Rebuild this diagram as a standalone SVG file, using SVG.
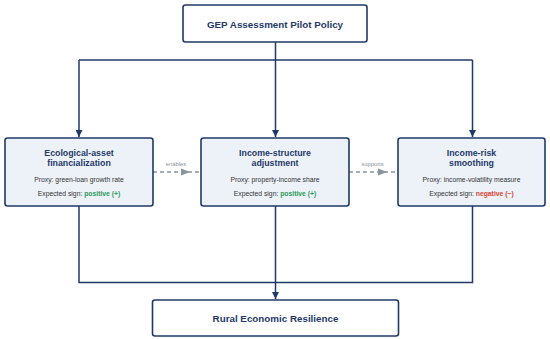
<svg xmlns="http://www.w3.org/2000/svg" width="550" height="339" viewBox="0 0 550 339">
<defs>
<marker id="ah" viewBox="0 0 10 10" refX="10" refY="5" markerWidth="7" markerHeight="7" markerUnits="userSpaceOnUse" orient="auto">
<path d="M0,0 L10,5 L0,10 z" fill="#1f3a68"/>
</marker>
<marker id="gah" viewBox="0 0 10 10" refX="10" refY="5" markerWidth="9" markerHeight="7" markerUnits="userSpaceOnUse" orient="auto">
<path d="M0,0 L10,5 L0,10 z" fill="#8a949c"/>
</marker>
<style>
.nb{fill:#ffffff;stroke:#1f3a68;stroke-width:1.6}
.mb{fill:#edf2f9;stroke:#1f3a68;stroke-width:1.6}
.t{font-family:"Liberation Sans",Arial,sans-serif;font-weight:bold;fill:#1f3a68;text-anchor:middle}
.p{font-family:"Liberation Sans",Arial,sans-serif;font-size:6.8px;fill:#333333;text-anchor:middle}
.pos{fill:#2e9a5a;font-weight:bold}
.neg{fill:#dd4433;font-weight:bold}
.c{fill:none;stroke:#1f3a68;stroke-width:1.5}
.d{fill:none;stroke:#8a949c;stroke-width:1.5;stroke-dasharray:4 3}
.l{font-family:"Liberation Sans",Arial,sans-serif;font-size:5.8px;fill:#8a949c;text-anchor:middle}
</style>
</defs>
<rect width="550" height="339" fill="#ffffff"/>
<g id="connectors">
<path class="c" d="M275.5,42 V60"/>
<path class="c" d="M79,60 H472.5"/>
<path class="c" d="M79,60 V137" marker-end="url(#ah)"/>
<path class="c" d="M275.5,60 V137" marker-end="url(#ah)"/>
<path class="c" d="M472.5,60 V137" marker-end="url(#ah)"/>
<path class="c" d="M79,206 V282.5 H472.5 V206"/>
<path class="c" d="M275.5,206 V299" marker-end="url(#ah)"/>
<path class="d" d="M153,172 H201"/>
<path d="M181,168.5 L190,172 L181,175.5 z" fill="#8a949c"/>
<text class="l" x="176" y="166">enables</text>
<path class="d" d="M349,172 H398"/>
<path d="M378,168.5 L387,172 L378,175.5 z" fill="#8a949c"/>
<text class="l" x="372.5" y="166">supports</text>
</g>
<g id="policy">
<rect class="nb" x="183" y="5" width="184" height="37" rx="2.5"/>
<text class="t" x="275" y="27.5" font-size="9.8">GEP Assessment Pilot Policy</text>
</g>
<g id="eco">
<rect class="mb" x="5" y="138" width="148" height="68" rx="2.5"/>
<text class="t" x="79" y="155.5" font-size="8.8">Ecological-asset</text>
<text class="t" x="79" y="166" font-size="8.8">financialization</text>
<text class="p" x="79" y="181.5">Proxy: green-loan growth rate</text>
<text class="p" x="79" y="195.5">Expected sign: <tspan class="pos">positive (+)</tspan></text>
</g>
<g id="income">
<rect class="mb" x="201" y="138" width="148" height="68" rx="2.5"/>
<text class="t" x="275" y="155.5" font-size="8.8">Income-structure</text>
<text class="t" x="275" y="166" font-size="8.8">adjustment</text>
<text class="p" x="275" y="181.5">Proxy: property-income share</text>
<text class="p" x="275" y="195.5">Expected sign: <tspan class="pos">positive (+)</tspan></text>
</g>
<g id="risk">
<rect class="mb" x="398" y="138" width="147" height="68" rx="2.5"/>
<text class="t" x="471.5" y="155.5" font-size="8.8">Income-risk</text>
<text class="t" x="471.5" y="166" font-size="8.8">smoothing</text>
<text class="p" x="471.5" y="181.5">Proxy: income-volatility measure</text>
<text class="p" x="471.5" y="195.5">Expected sign: <tspan class="neg">negative (−)</tspan></text>
</g>
<g id="resilience">
<rect class="nb" x="152.5" y="300" width="246" height="36" rx="2.5"/>
<text class="t" x="275.5" y="321.5" font-size="9.8">Rural Economic Resilience</text>
</g>
</svg>
